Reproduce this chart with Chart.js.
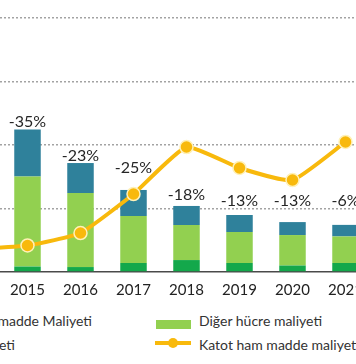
<!DOCTYPE html>
<html><head><meta charset="utf-8">
<script src="https://cdn.jsdelivr.net/npm/chart.js@4"></script>
<style>
html,body{margin:0;padding:0;background:#fff;overflow:hidden;width:356px;height:364px;position:relative;}
#wrap{position:absolute;left:-60px;top:0;width:440px;height:310px;}
.leg{position:absolute;font-family:Lato,sans-serif;font-size:14px;color:#333;white-space:nowrap;line-height:18px;}
.sw{position:absolute;}
</style></head><body>
<div id="wrap"><canvas id="c"></canvas></div>
<div id="legend"></div>
<script>
// ---- data ----
const years = ['2014','2015','2016','2017','2018','2019','2020','2021'];
const katotMalzeme = [null, 4.3, 3.9, 7.1, 9.4, 7.1, 5.1, 7.1];
const digerHucre   = [null, 70.9, 58.3, 37.0, 27.6, 24.4, 24.0, 20.9];
const paket        = [null, 37.0, 23.6, 20.5, 15.0, 13.4, 10.2, 9.1];
const katotHamMadde = [18.1, 20.9, 30.7, 61.4, 98.4, 81.9, 72.4, 102.4];
const degisim = ['', '-35%', '-23%', '-25%', '-18%', '-13%', '-13%', '-6%'];
const yTicks = [0, 50, 100, 150, 200];
const seriesNames = ['Katot ham madde Maliyeti', 'Diğer hücre maliyeti', 'Paket maliyeti', 'Katot ham madde maliyeti'];

const C_DARK = '#13a84b', C_LIGHT = '#92d050', C_TEAL = '#2f819b', C_GOLD = '#f8b90c';

const pctLabels = {
  id: 'pctLabels',
  afterDatasetsDraw(chart, args, opts) {
    const meta = chart.getDatasetMeta(3);
    const ctx = chart.ctx;
    ctx.save();
    ctx.font = '16px Lato';
    ctx.fillStyle = '#262626';
    ctx.textAlign = 'center';
    ctx.textBaseline = 'alphabetic';
    meta.data.forEach((bar, i) => {
      if (!degisim[i]) return;
      ctx.fillText(degisim[i], bar.x, bar.y - opts.offsets[i]);
    });
    ctx.restore();
  }
};

new Chart(document.getElementById('c'), {
  type: 'bar',
  data: {
    labels: years,
    datasets: [
      { type: 'line', label: seriesNames[3], data: katotHamMadde, order: 0,
        borderColor: C_GOLD, borderWidth: 4, tension: 0.15,
        pointRadius: 6.5, pointBackgroundColor: C_GOLD, pointBorderColor: '#fff1b8', pointBorderWidth: 1.5 },
      { label: seriesNames[0], data: katotMalzeme, backgroundColor: C_DARK, stack: 's', order: 1 },
      { label: seriesNames[1], data: digerHucre, backgroundColor: C_LIGHT, stack: 's', order: 1 },
      { label: seriesNames[2], data: paket, backgroundColor: C_TEAL, stack: 's', order: 1 }
    ]
  },
  options: {
    responsive: true, maintainAspectRatio: false, animation: false,
    layout: { padding: { left: 3.75, right: 0, top: 18, bottom: 0 } },
    datasets: { bar: { barPercentage: 1, categoryPercentage: 0.5 } },
    plugins: {
      legend: { display: false }, tooltip: { enabled: false },
      pctLabels: { offsets: [0, 3, 2, 17, 6, 9, 16, 19] }
    },
    scales: {
      x: {
        stacked: true,
        grid: { display: false, drawTicks: false },
        border: { display: true, color: '#4a4a4a', width: 1.5 },
        ticks: { color: '#222', font: { family: 'Lato', size: 15 }, padding: 9 },
        afterFit: s => { s.height = 38; }
      },
      y: {
        stacked: true, min: yTicks[0], max: yTicks[yTicks.length - 1],
        afterBuildTicks: s => { s.ticks = yTicks.map(v => ({ value: v })); },
        ticks: { display: false },
        grid: { drawTicks: false, color: c => c.tick.value === 0 ? 'rgba(0,0,0,0)' : '#a3a3a3', lineWidth: 1.5 },
        border: { display: false, dash: [2, 2] },
        afterFit: s => { s.width = 0; }
      }
    }
  },
  plugins: [pctLabels]
});

// HTML legend
const lg = document.getElementById('legend');
function add(html) { lg.insertAdjacentHTML('beforeend', html); }
add(`<div class="leg" style="right:${356-92}px;top:312px">${seriesNames[0]}</div>`);
add(`<div class="leg" style="right:${356-15}px;top:336px">${seriesNames[2]}</div>`);
add(`<div class="sw" style="left:156px;top:320px;width:35px;height:9px;background:${C_LIGHT}"></div>`);
add(`<div class="leg" style="left:199px;top:312px">${seriesNames[1]}</div>`);
add(`<div class="sw" style="left:155px;top:341px;width:36px;height:4px;background:${C_GOLD}"></div>`);
add(`<div class="sw" style="left:168px;top:338px;width:10px;height:10px;border-radius:50%;background:${C_GOLD}"></div>`);
add(`<div class="leg" style="left:199px;top:336px">${seriesNames[3]}</div>`);
</script>
</body></html>
